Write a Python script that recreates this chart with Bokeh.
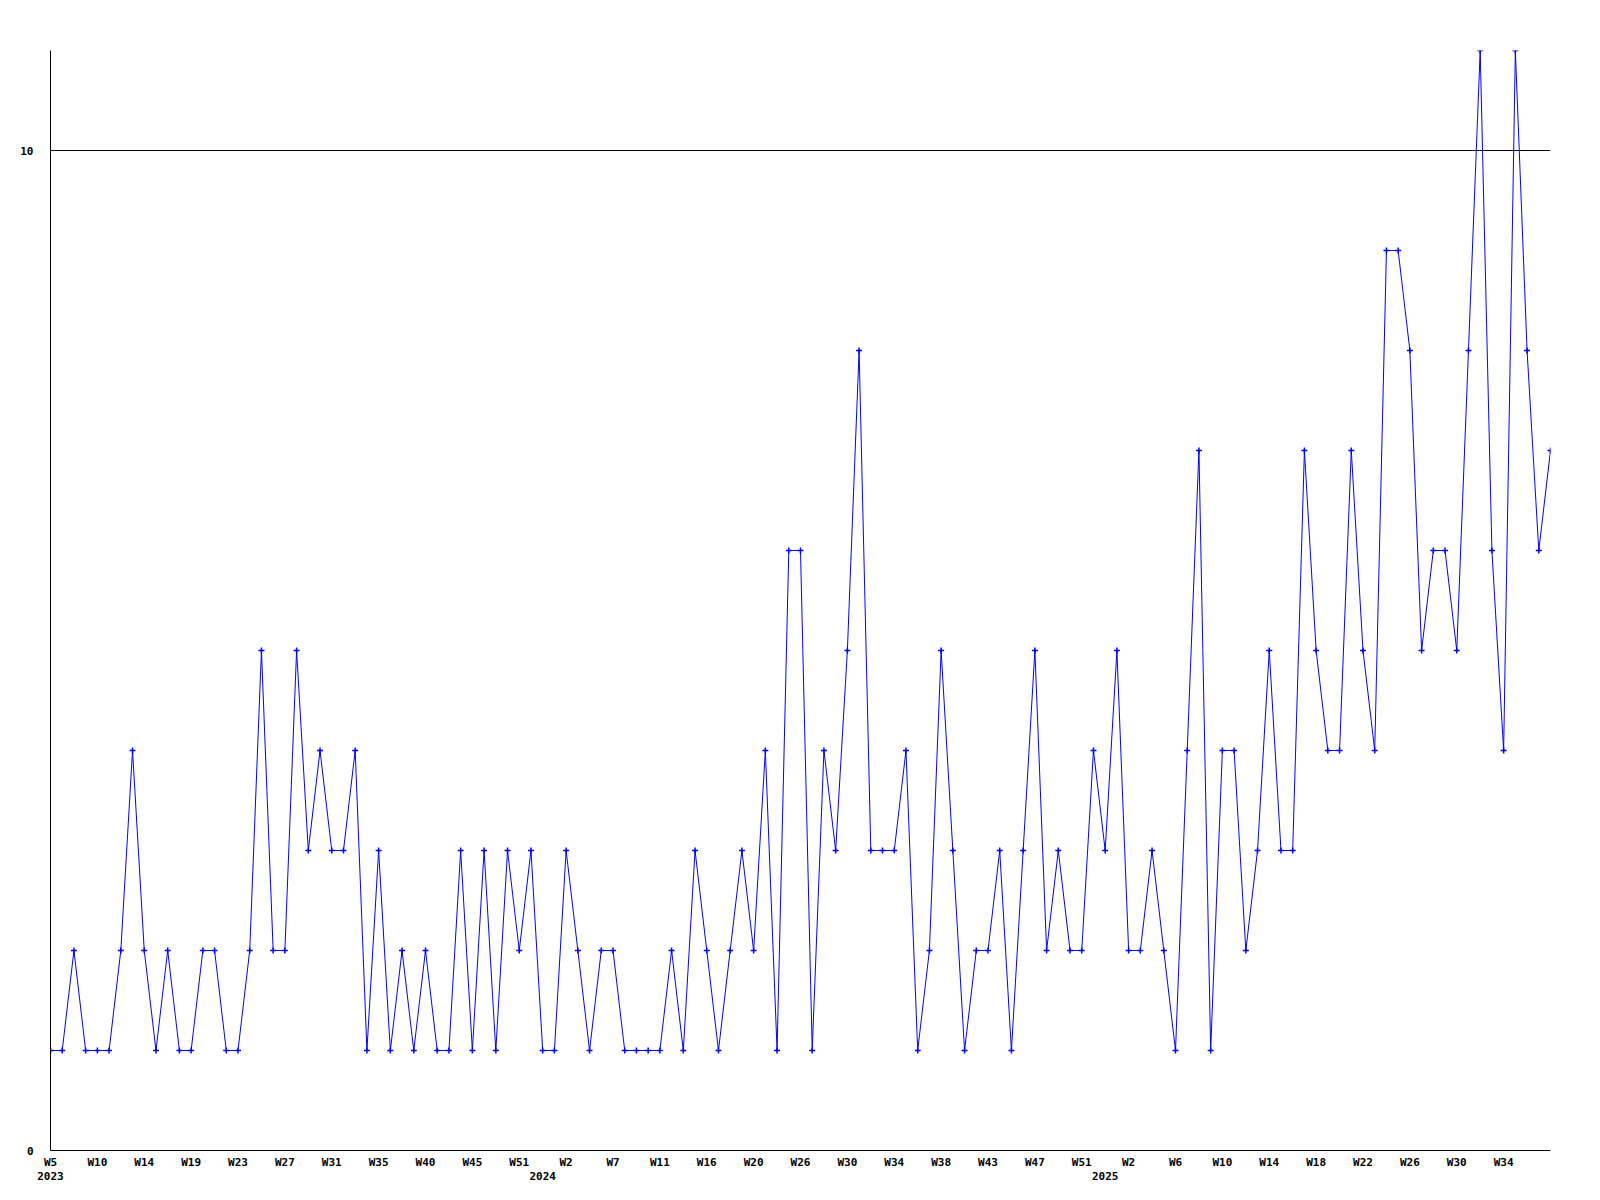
from bokeh.plotting import figure
from bokeh.models import Range1d, FixedTicker, LinearAxis
from bokeh.embed import file_html
from bokeh.resources import INLINE

# ---- data ----
values = [
    1, 1, 2, 1, 1, 1, 2, 4, 2, 1,
    2, 1, 1, 2, 2, 1, 1, 2, 5, 2,
    2, 5, 3, 4, 3, 3, 4, 1, 3, 1,
    2, 1, 2, 1, 1, 3, 1, 3, 1, 3,
    2, 3, 1, 1, 3, 2, 1, 2, 2, 1,
    1, 1, 1, 2, 1, 3, 2, 1, 2, 3,
    2, 4, 1, 6, 6, 1, 4, 3, 5, 8,
    3, 3, 3, 4, 1, 2, 5, 3, 1, 2,
    2, 3, 1, 3, 5, 2, 3, 2, 2, 4,
    3, 5, 2, 2, 3, 2, 1, 4, 7, 1,
    4, 4, 2, 3, 5, 3, 3, 7, 5, 4,
    4, 7, 5, 4, 9, 9, 8, 5, 6, 6,
    5, 8, 11, 6, 4, 11, 8, 6, 7,
]
week_labels = ["W5", "W10", "W14", "W19", "W23", "W27", "W31", "W35", "W40", "W45",
               "W51", "W2", "W7", "W11", "W16", "W20", "W26", "W30", "W34", "W38",
               "W43", "W47", "W51", "W2", "W6", "W10", "W14", "W18", "W22", "W26",
               "W30", "W34"]
label_every = 4
year_labels = ["2023", "2024", "2025"]
year_start_index = [0, 42, 90]
y_ticks = [0, 10]

xs = list(range(len(values)))
tick_pos = [i * label_every for i in range(len(week_labels))]

FONT = "DejaVu Sans Mono"
BLUE = "#0000ff"

p = figure(frame_width=1500, frame_height=1100,
           x_range=Range1d(0, len(values) - 1), y_range=Range1d(0, max(values)),
           output_backend="svg", toolbar_location=None,
           min_border_left=50, min_border_top=50, min_border_right=48, min_border_bottom=46)
p.outline_line_color = None
p.background_fill_color = "white"
p.border_fill_color = "white"

# grid: only horizontal lines at the y ticks
p.xgrid.visible = False
p.ygrid.ticker = FixedTicker(ticks=y_ticks)
p.ygrid.grid_line_color = "black"
p.ygrid.grid_line_width = 1

# x axis (weeks)
p.xaxis.ticker = FixedTicker(ticks=tick_pos)
p.xaxis.major_label_overrides = {t: l for t, l in zip(tick_pos, week_labels)}
p.xaxis.major_label_standoff = 5

# second x axis (years)
year_axis = LinearAxis(ticker=FixedTicker(ticks=year_start_index),
                       major_label_overrides={t: l for t, l in zip(year_start_index, year_labels)},
                       major_label_standoff=0, axis_line_color=None)
p.add_layout(year_axis, "below")

# y axis
p.yaxis.ticker = FixedTicker(ticks=y_ticks)
p.yaxis.major_label_standoff = 17

for ax in (p.xaxis[0], year_axis, p.yaxis[0]):
    ax.major_tick_out = 0
    ax.major_tick_in = 0
    ax.minor_tick_out = 0
    ax.minor_tick_in = 0
    ax.major_label_text_font = FONT
    ax.major_label_text_font_style = "bold"
    ax.major_label_text_font_size = "11px"
    ax.major_label_text_color = "black"
p.xaxis[0].axis_line_color = "black"
p.yaxis[0].axis_line_color = "black"

# data
p.line(xs, values, line_color=BLUE, line_width=1)
p.scatter(xs, values, marker="cross", size=6, line_width=1.5, line_color=BLUE)

open("out.html", "w").write(file_html(p, INLINE))
